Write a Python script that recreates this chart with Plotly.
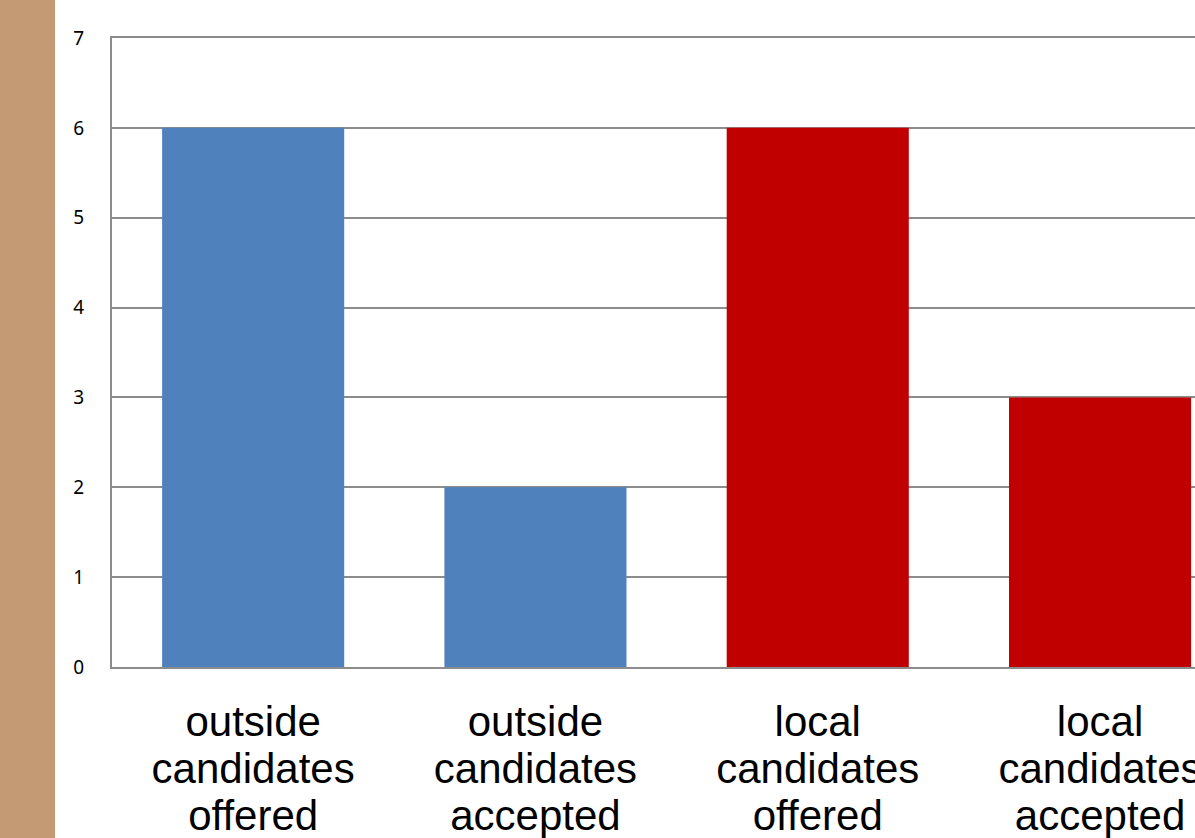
import plotly.graph_objects as go

line1 = ["outside", "outside", "local", "local"]
line2 = ["candidates", "candidates", "candidates", "candidates"]
line3 = ["offered", "accepted", "offered", "accepted"]
values = [6, 2, 6, 3]
bar_colors = ["#4F81BD", "#4F81BD", "#C00000", "#C00000"]
y_ticks = [0, 1, 2, 3, 4, 5, 6, 7]

span = "<span style='font-size:42px'>{}</span>"
categories = ["<br>".join(span.format(s) for s in parts) for parts in zip(line1, line2, line3)]

W, H = 1195, 838
L, T, B = 112, 38, 171
pw = W - L
ph = H - T - B

fig = go.Figure(go.Bar(x=list(range(len(categories))), y=values,
                       marker=dict(color=bar_colors, line=dict(width=0))))

fig.update_layout(
    width=W, height=H,
    margin=dict(l=L, r=0, t=T, b=B, pad=0),
    paper_bgcolor="white", plot_bgcolor="white",
    bargap=0.355, showlegend=False,
    shapes=[dict(type="rect", xref="paper", yref="paper",
                 x0=-L / pw, x1=(55 - L) / pw,
                 y0=-(B + 5) / ph, y1=(ph + T + 5) / ph,
                 fillcolor="#C49A74", line=dict(width=0), layer="below")],
)
fig.update_xaxes(
    automargin=False,
    tickmode="array", tickvals=list(range(len(categories))), ticktext=categories,
    range=[-0.5, -0.5 + pw / 282.3],
    showgrid=False, zeroline=False, showline=True, mirror=True,
    linecolor="#8C8C8C", linewidth=2,
    ticks="", tickfont=dict(family="Liberation Sans, Arial, sans-serif", size=36, color="black"),
    ticklabelstandoff=24, ticklabeloverflow="allow",
)
fig.update_yaxes(
    automargin=False,
    range=[0, 7], tickmode="array", tickvals=y_ticks,
    showgrid=True, gridcolor="#8C8C8C", gridwidth=2,
    zeroline=False, showline=True, linecolor="#8C8C8C", linewidth=2,
    ticks="", tickfont=dict(family="Noto Sans, Open Sans, sans-serif", size=19, color="black"),
    ticklabelstandoff=22,
)

fig.write_html("out.html")
